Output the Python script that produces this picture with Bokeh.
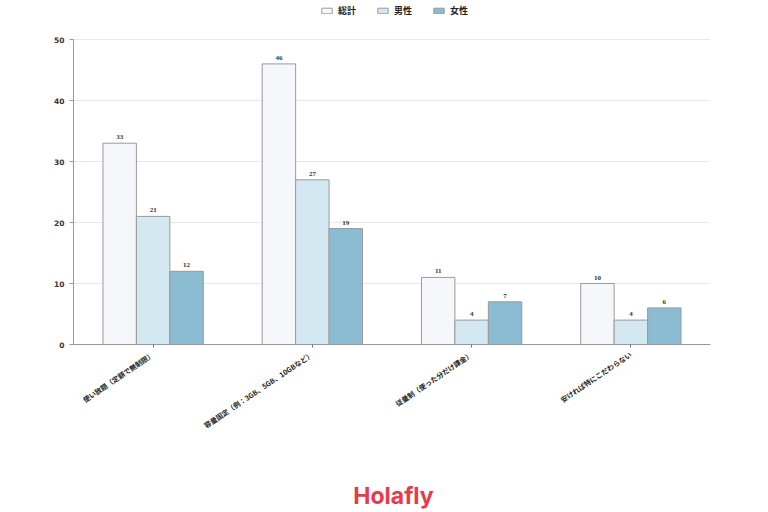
from bokeh.plotting import figure
from bokeh.layouts import column
from bokeh.models import ColumnDataSource, FactorRange, Legend, LegendItem, LabelSet, Label, FixedTicker, Range1d
from bokeh.transform import dodge
from bokeh.embed import file_html
from bokeh.resources import INLINE
import math

categories = ["使い放題（定額で無制限）", "容量固定（例：3GB、5GB、10GBなど）",
              "従量制（使った分だけ課金）", "安ければ特にこだわらない"]
series_names = ["総計", "男性", "女性"]
total = [33, 46, 11, 10]
male = [21, 27, 4, 4]
female = [12, 19, 7, 6]
y_ticks = [0, 10, 20, 30, 40, 50]

FONT = "Noto Sans CJK JP"
NUM_FONT = "DejaVu Sans"
fills = ["#f5f7fa", "#d4e8f1", "#8bbcd2"]
edge = "#9a9a9a"

src = ColumnDataSource(dict(cat=categories, total=total, male=male, female=female,
                            total_s=[str(v) for v in total],
                            male_s=[str(v) for v in male],
                            female_s=[str(v) for v in female]))

# The frame reaches up to the top edge so the legend row can sit inside it;
# the axis itself is bounded to 0-50.
CHART_H = 470
FRAME_TOP_PAD = 2
BOTTOM = 126
FRAME_H = CHART_H - FRAME_TOP_PAD - BOTTOM
Y_MAX = 50 * FRAME_H / 305.0

p = figure(width=768, height=CHART_H, x_range=FactorRange(*categories, range_padding=0),
           y_range=Range1d(0, Y_MAX), output_backend="svg", toolbar_location=None,
           min_border_left=73, min_border_right=58, min_border_top=FRAME_TOP_PAD,
           min_border_bottom=BOTTOM)

w = 0.21
cols = ["total", "male", "female"]
offsets = [-w, 0, w]
items = []
for col, off, fc, name in zip(cols, offsets, fills, series_names):
    r = p.vbar(x=dodge("cat", off, range=p.x_range), top=col, width=w, source=src,
               fill_color=fc, line_color=edge, line_width=1)
    items.append(LegendItem(label=name, renderers=[r]))
    lbl = LabelSet(x=dodge("cat", off, range=p.x_range), y=col, text=col + "_s", source=src,
                   text_align="center", text_baseline="bottom", y_offset=4,
                   text_font=NUM_FONT, text_font_size="7px", text_font_style="bold",
                   text_color="#333333")
    p.add_layout(lbl)

legend = Legend(items=items, orientation="horizontal", location=(245, FRAME_H - 17),
                label_text_font=FONT, label_text_font_size="9px", label_text_font_style="bold",
                label_text_color="#222222", glyph_width=13, glyph_height=7,
                spacing=18, label_standoff=5, padding=2, margin=0,
                background_fill_alpha=0, border_line_alpha=0)
p.add_layout(legend, "center")

p.outline_line_color = None
p.xgrid.grid_line_color = None
p.ygrid.grid_line_color = "#e8e8e8"
p.ygrid.grid_line_width = 1

p.yaxis.ticker = FixedTicker(ticks=y_ticks)
p.yaxis.bounds = (0, 50)
p.yaxis.axis_line_color = "#999999"
p.yaxis.major_tick_line_color = "#999999"
p.yaxis.major_tick_out = 4
p.yaxis.major_tick_in = 0
p.yaxis.minor_tick_line_color = None
p.yaxis.major_label_text_font = NUM_FONT
p.yaxis.major_label_text_font_size = "7.5px"
p.yaxis.major_label_text_font_style = "bold"
p.yaxis.major_label_text_color = "#333333"

p.xaxis.axis_line_color = "#999999"
p.xaxis.major_tick_line_color = "#777777"
p.xaxis.major_tick_out = 3
p.xaxis.major_tick_in = 0
p.xaxis.major_label_orientation = math.radians(34)
p.xaxis.major_label_standoff = 6
p.xaxis.major_label_text_font = FONT
p.xaxis.major_label_text_font_size = "7px"
p.xaxis.major_label_text_font_style = "bold"
p.xaxis.major_label_text_color = "#222222"

# brand strip under the chart (its frame lines up with the chart frame at x=73)
LOGO_H = 512 - CHART_H
footer = figure(width=768, height=LOGO_H, output_backend="svg", toolbar_location=None,
                x_range=(0, 1), y_range=(0, 1), min_border=0)
footer.axis.visible = False
footer.grid.visible = False
footer.outline_line_color = None
footer.add_layout(Label(x=320, y=LOGO_H - 25, x_units="screen", y_units="screen",
                        text="Holafly", text_font="Inter", text_font_size="23px",
                        text_font_style="bold", text_color="#e8394d",
                        text_align="center", text_baseline="middle"))

layout = column(p, footer, spacing=0)
open("out.html", "w").write(file_html(layout, INLINE))
